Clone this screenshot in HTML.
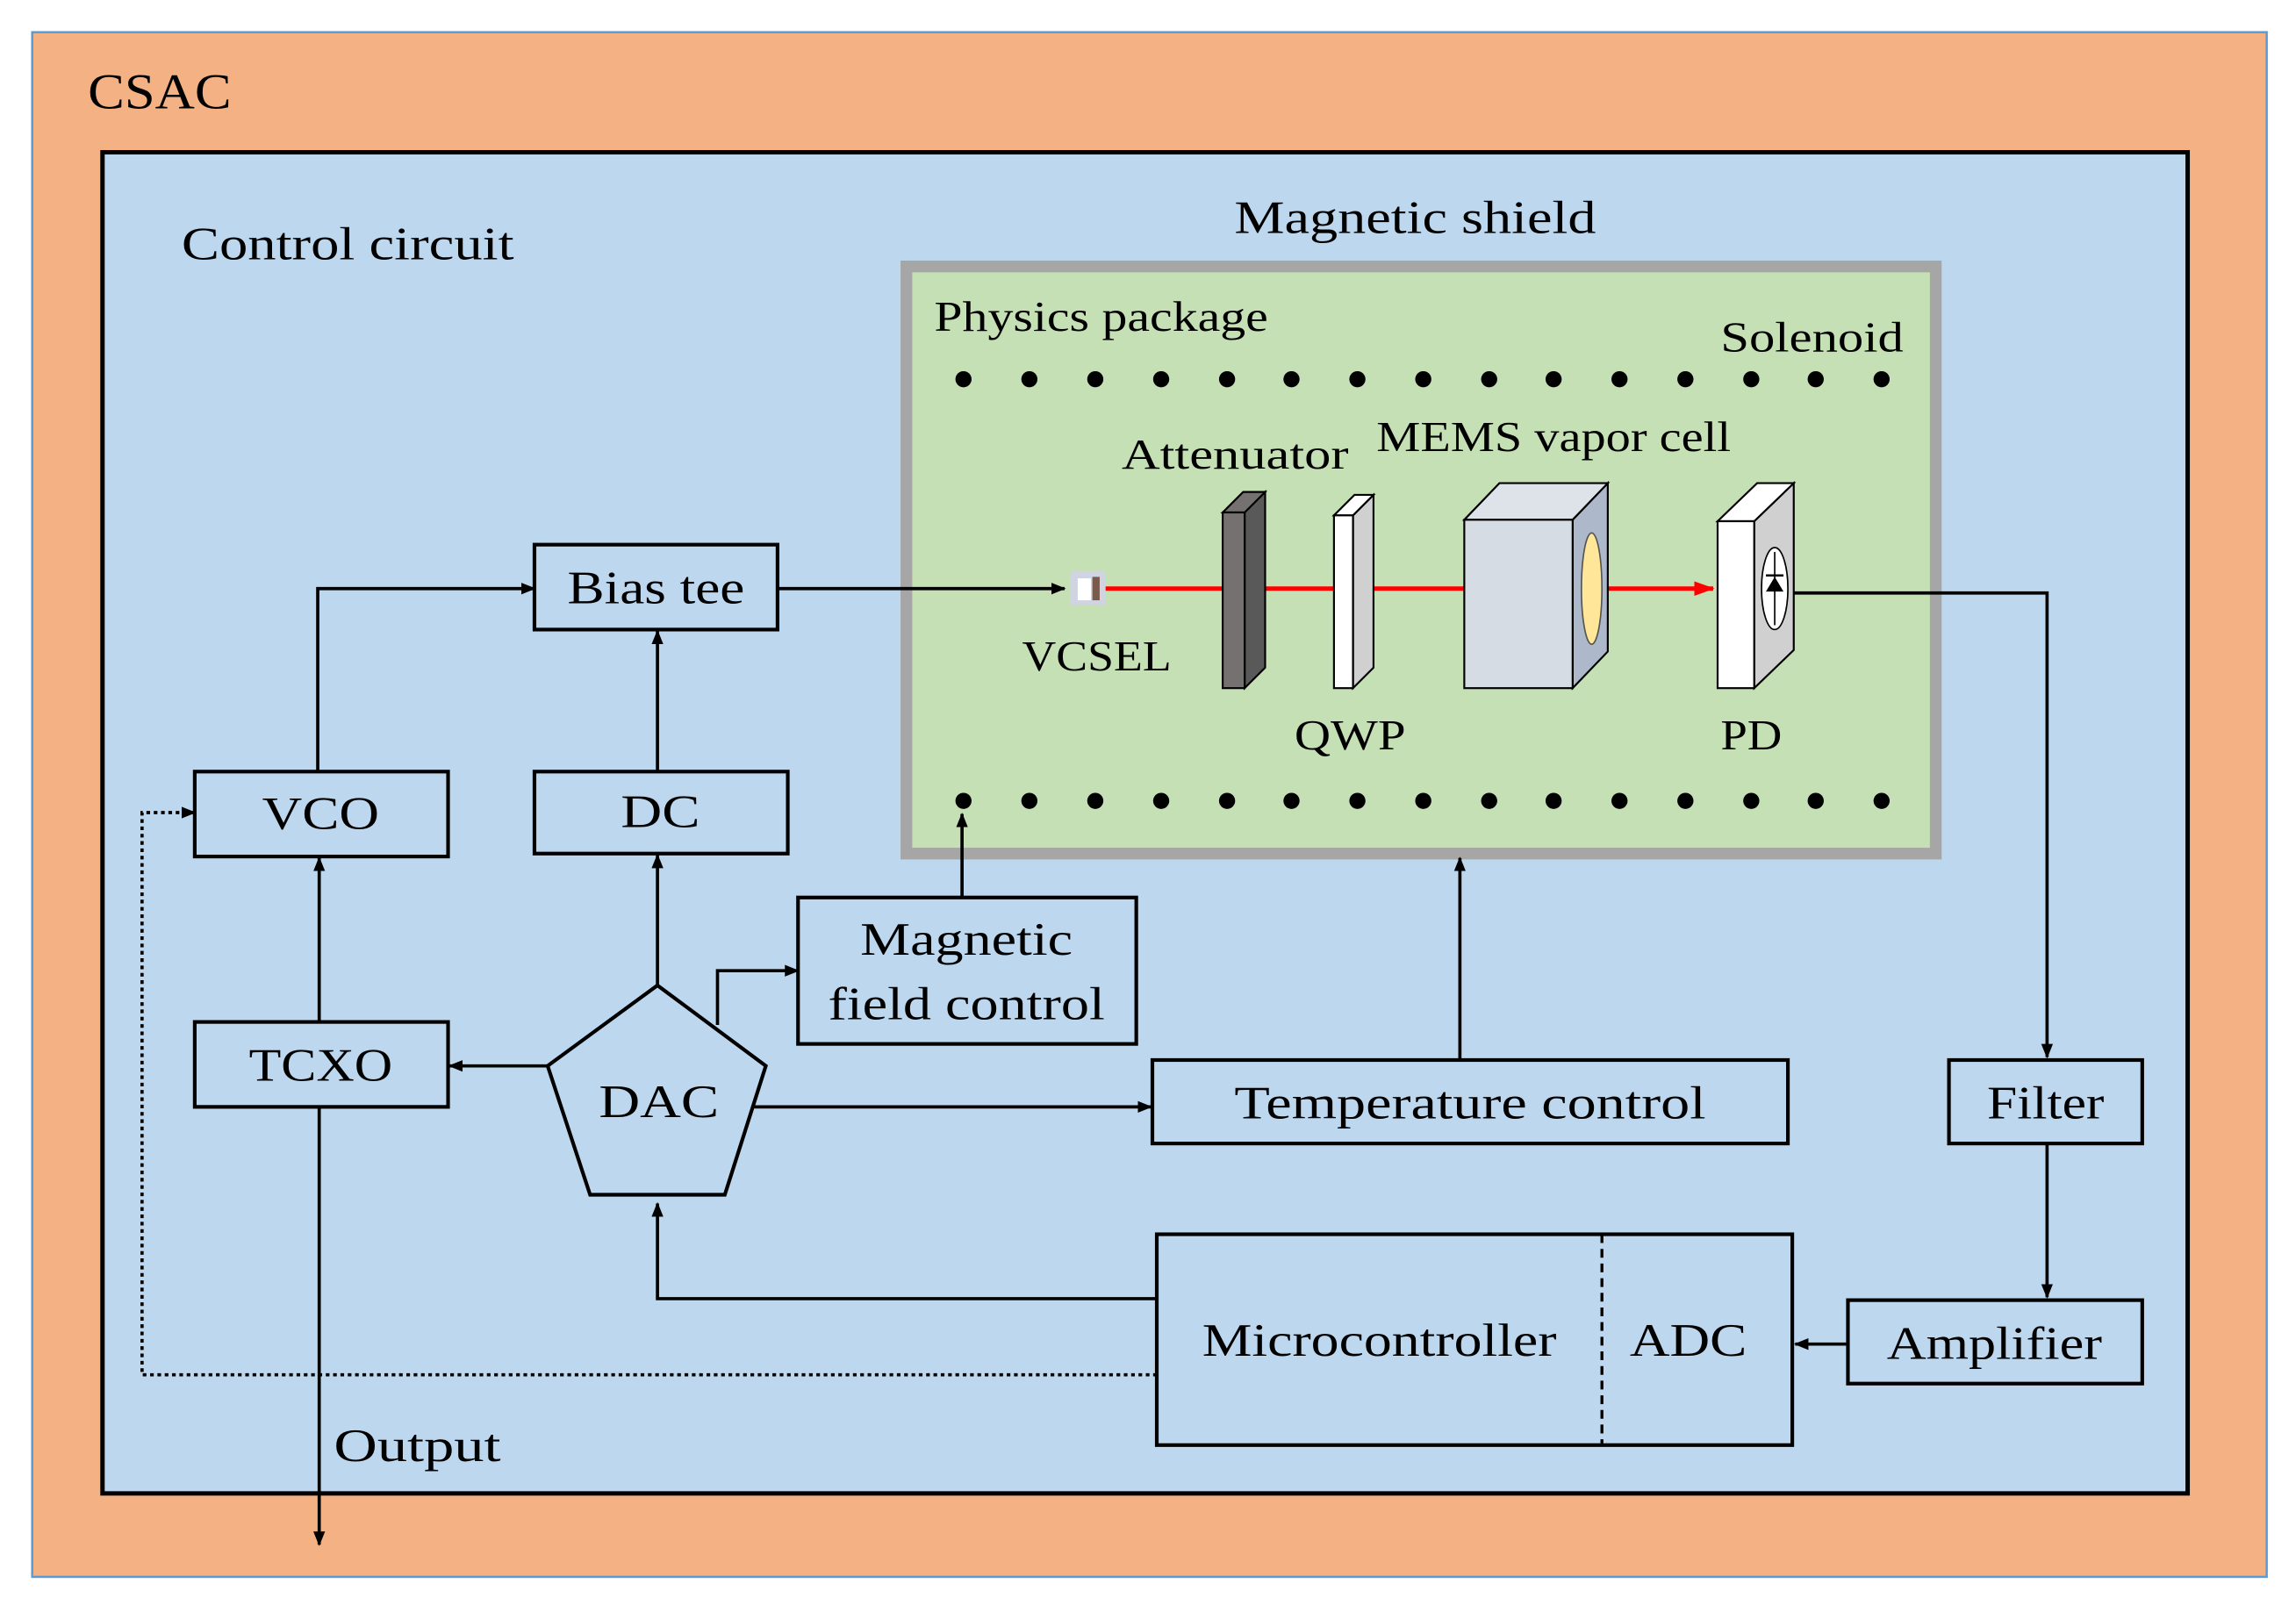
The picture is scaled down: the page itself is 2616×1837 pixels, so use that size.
<!DOCTYPE html>
<html><head><style>html,body{margin:0;padding:0;background:#fff}svg{display:block}</style></head><body>
<svg width="2616" height="1837" viewBox="0 0 1568 1101" preserveAspectRatio="none" xmlns="http://www.w3.org/2000/svg" font-family="Liberation Serif, serif">
<defs>
<marker id="a" markerWidth="10" markerHeight="10" refX="9" refY="5" orient="auto" markerUnits="userSpaceOnUse"><path d="M0,1 L10,5 L0,9 z" fill="#000"/></marker>
<marker id="r" markerWidth="14" markerHeight="12" refX="13" refY="6" orient="auto" markerUnits="userSpaceOnUse"><path d="M0,1 L14,6 L0,11 z" fill="#f00"/></marker>
</defs>
<rect x="0" y="0" width="1568" height="1101" fill="#fff"/>
<rect x="22" y="22" width="1526" height="1055" fill="#f4b183" stroke="#5b9bd5" stroke-width="1.5"/>
<rect x="70" y="104" width="1424" height="916" fill="#bdd7ee" stroke="#000" stroke-width="3"/>
<rect x="619" y="182" width="703" height="401" fill="#c5e0b4" stroke="#a6a6a6" stroke-width="8"/>
<g font-size="34"><text x="60" y="74" textLength="98" lengthAdjust="spacingAndGlyphs">CSAC</text></g>
<g font-size="32"><text x="124" y="177" textLength="227" lengthAdjust="spacingAndGlyphs">Control circuit</text><text x="843" y="159" textLength="247" lengthAdjust="spacingAndGlyphs">Magnetic shield</text></g>
<g font-size="29"><text x="638" y="226" textLength="228" lengthAdjust="spacingAndGlyphs">Physics package</text><text x="1175" y="240" textLength="125" lengthAdjust="spacingAndGlyphs">Solenoid</text>
<text x="766" y="320" textLength="155" lengthAdjust="spacingAndGlyphs">Attenuator</text><text x="940" y="308" textLength="242" lengthAdjust="spacingAndGlyphs">MEMS vapor cell</text>
<text x="698" y="458" textLength="102" lengthAdjust="spacingAndGlyphs">VCSEL</text><text x="884" y="512" textLength="76" lengthAdjust="spacingAndGlyphs">QWP</text><text x="1175" y="512" textLength="42" lengthAdjust="spacingAndGlyphs">PD</text></g>
<g fill="#000">
<circle cx="658" cy="259" r="5.5"/><circle cx="703" cy="259" r="5.5"/><circle cx="748" cy="259" r="5.5"/><circle cx="793" cy="259" r="5.5"/><circle cx="838" cy="259" r="5.5"/><circle cx="882" cy="259" r="5.5"/><circle cx="927" cy="259" r="5.5"/><circle cx="972" cy="259" r="5.5"/><circle cx="1017" cy="259" r="5.5"/><circle cx="1061" cy="259" r="5.5"/><circle cx="1106" cy="259" r="5.5"/><circle cx="1151" cy="259" r="5.5"/><circle cx="1196" cy="259" r="5.5"/><circle cx="1240" cy="259" r="5.5"/><circle cx="1285" cy="259" r="5.5"/>
<circle cx="658" cy="547" r="5.5"/><circle cx="703" cy="547" r="5.5"/><circle cx="748" cy="547" r="5.5"/><circle cx="793" cy="547" r="5.5"/><circle cx="838" cy="547" r="5.5"/><circle cx="882" cy="547" r="5.5"/><circle cx="927" cy="547" r="5.5"/><circle cx="972" cy="547" r="5.5"/><circle cx="1017" cy="547" r="5.5"/><circle cx="1061" cy="547" r="5.5"/><circle cx="1106" cy="547" r="5.5"/><circle cx="1151" cy="547" r="5.5"/><circle cx="1196" cy="547" r="5.5"/><circle cx="1240" cy="547" r="5.5"/><circle cx="1285" cy="547" r="5.5"/>
</g>
<line x1="755" y1="402" x2="1170" y2="402" stroke="#f00" stroke-width="3" marker-end="url(#r)"/>
<rect x="731" y="390" width="24" height="23" fill="#d0d4e0"/><rect x="736" y="395" width="9" height="15" fill="#fff"/><rect x="746" y="394" width="5" height="16" fill="#7a5a4a"/>
<g stroke="#000" stroke-width="1.3">
<polygon points="850,350 864,336 864,456 850,470" fill="#595959"/><polygon points="835,350 849,336 864,336 850,350" fill="#767171"/><rect x="835" y="350" width="15" height="120" fill="#767171"/>
<polygon points="924,352 938,338 938,456 924,470" fill="#d0d0d0"/><polygon points="911,352 925,338 938,338 924,352" fill="#fff"/><rect x="911" y="352" width="13" height="118" fill="#fff"/>
<polygon points="1074,355 1098,330 1098,445 1074,470" fill="#adb9ca"/><polygon points="1000,355 1024,330 1098,330 1074,355" fill="#dee3ea"/><rect x="1000" y="355" width="74" height="115" fill="#d6dce4"/>
<polygon points="1198,356 1225,330 1225,444 1198,470" fill="#d0d0d0"/><polygon points="1173,356 1200,330 1225,330 1198,356" fill="#fff"/><rect x="1173" y="356" width="25" height="114" fill="#fff"/>
</g>
<ellipse cx="1087" cy="402" rx="7" ry="38" fill="#ffe699" stroke="#555" stroke-width="1"/>
<ellipse cx="1212" cy="402" rx="9" ry="28" fill="#fff" stroke="#000" stroke-width="1"/>
<line x1="1212" y1="377" x2="1212" y2="427" stroke="#000" stroke-width="1"/>
<polygon points="1206,404 1218,404 1212,394" fill="#000"/><line x1="1206" y1="393" x2="1218" y2="393" stroke="#000" stroke-width="1.5"/>
<g fill="none" stroke="#000" stroke-width="2.5">
<rect x="365" y="372" width="166" height="58"/>
<rect x="133" y="527" width="173" height="58"/>
<rect x="365" y="527" width="173" height="56"/>
<rect x="545" y="613" width="231" height="100"/>
<rect x="133" y="698" width="173" height="58"/>
<polygon points="449,673 523,728 495,816 403,816 374,728"/>
<rect x="787" y="724" width="434" height="57"/>
<rect x="1331" y="724" width="132" height="57"/>
<rect x="790" y="843" width="434" height="144"/>
<rect x="1262" y="888" width="201" height="57"/>
</g>
<line x1="1094" y1="843" x2="1094" y2="987" stroke="#000" stroke-width="2" stroke-dasharray="6,4"/>
<g font-size="32" text-anchor="middle">
<text x="448" y="412" textLength="121" lengthAdjust="spacingAndGlyphs">Bias tee</text><text x="219" y="566" textLength="80" lengthAdjust="spacingAndGlyphs">VCO</text><text x="451" y="565" textLength="54" lengthAdjust="spacingAndGlyphs">DC</text>
<text x="660" y="652" textLength="145" lengthAdjust="spacingAndGlyphs">Magnetic</text><text x="660" y="696" textLength="189" lengthAdjust="spacingAndGlyphs">field control</text>
<text x="219" y="738" textLength="98" lengthAdjust="spacingAndGlyphs">TCXO</text><text x="450" y="763" textLength="82" lengthAdjust="spacingAndGlyphs">DAC</text>
<text x="1004" y="764" textLength="322" lengthAdjust="spacingAndGlyphs">Temperature control</text><text x="1397" y="764" textLength="80" lengthAdjust="spacingAndGlyphs">Filter</text>
<text x="942" y="926" textLength="242" lengthAdjust="spacingAndGlyphs">Microcontroller</text><text x="1153" y="926" textLength="80" lengthAdjust="spacingAndGlyphs">ADC</text><text x="1362" y="928" textLength="147" lengthAdjust="spacingAndGlyphs">Amplifier</text>
</g>
<text x="228" y="998" font-size="32" textLength="114" lengthAdjust="spacingAndGlyphs">Output</text>
<g fill="none" stroke="#000" stroke-width="2.2" marker-end="url(#a)">
<polyline points="217,527 217,402 365,402"/>
<line x1="449" y1="527" x2="449" y2="431"/>
<line x1="531" y1="402" x2="727" y2="402"/>
<line x1="449" y1="673" x2="449" y2="584"/>
<line x1="218" y1="698" x2="218" y2="586"/>
<line x1="374" y1="728" x2="307" y2="728"/>
<polyline points="490,700 490,663 545,663"/>
<line x1="657" y1="613" x2="657" y2="556"/>
<line x1="515" y1="756" x2="786" y2="756"/>
<line x1="997" y1="724" x2="997" y2="586"/>
<polyline points="1225,405 1398,405 1398,722"/>
<line x1="1398" y1="781" x2="1398" y2="886"/>
<line x1="1262" y1="918" x2="1226" y2="918"/>
<polyline points="790,887 449,887 449,822"/>
<line x1="218" y1="756" x2="218" y2="1055"/>
<polyline points="790,939 97,939 97,555 133,555" stroke-dasharray="2.5,2.5"/>
</g>
</svg>
</body></html>
